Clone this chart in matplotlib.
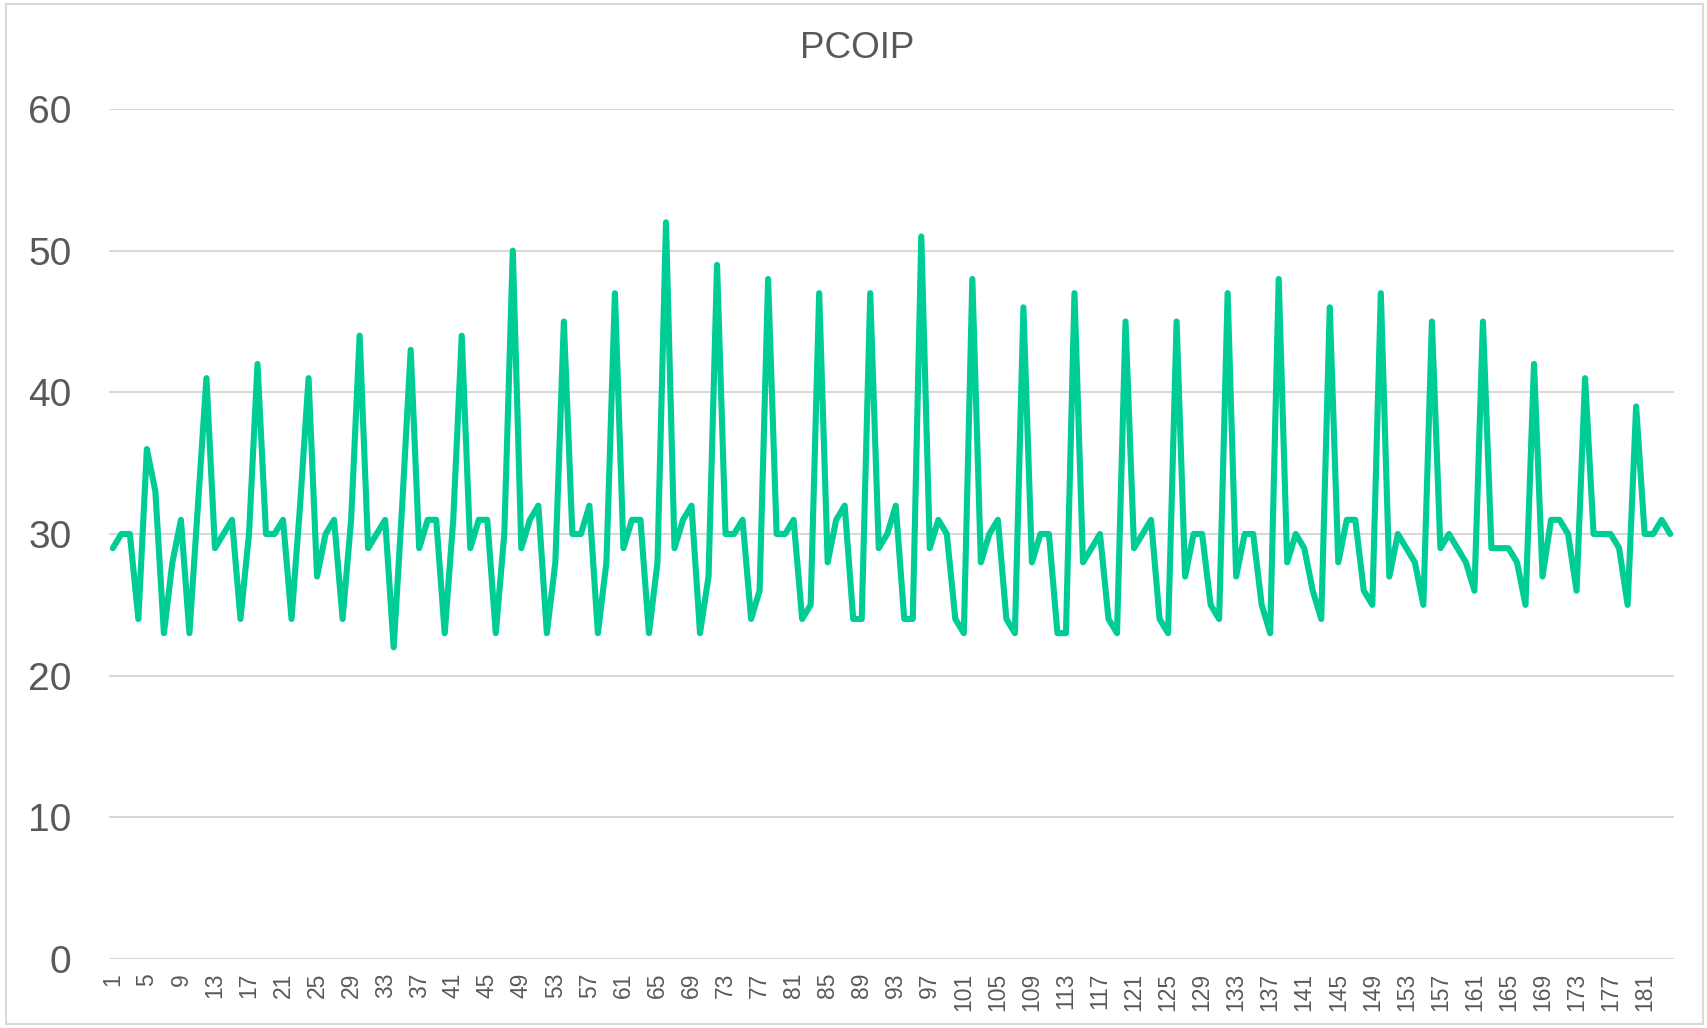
import matplotlib.pyplot as plt
from matplotlib.patches import Rectangle

plt.rcParams['font.family'] = ['Liberation Sans', 'DejaVu Sans']

# sample index on the x axis
samples = list(range(1, 185))

# PCOIP values
pcoip = [29, 30, 30, 24, 36, 33, 23, 28, 31, 23,
         32, 41, 29, 30, 31, 24, 30, 42, 30, 30,
         31, 24, 32, 41, 27, 30, 31, 24, 31, 44,
         29, 30, 31, 22, 32, 43, 29, 31, 31, 23,
         31, 44, 29, 31, 31, 23, 30, 50, 29, 31,
         32, 23, 28, 45, 30, 30, 32, 23, 28, 47,
         29, 31, 31, 23, 28, 52, 29, 31, 32, 23,
         27, 49, 30, 30, 31, 24, 26, 48, 30, 30,
         31, 24, 25, 47, 28, 31, 32, 24, 24, 47,
         29, 30, 32, 24, 24, 51, 29, 31, 30, 24,
         23, 48, 28, 30, 31, 24, 23, 46, 28, 30,
         30, 23, 23, 47, 28, 29, 30, 24, 23, 45,
         29, 30, 31, 24, 23, 45, 27, 30, 30, 25,
         24, 47, 27, 30, 30, 25, 23, 48, 28, 30,
         29, 26, 24, 46, 28, 31, 31, 26, 25, 47,
         27, 30, 29, 28, 25, 45, 29, 30, 29, 28,
         26, 45, 29, 29, 29, 28, 25, 42, 27, 31,
         31, 30, 26, 41, 30, 30, 30, 29, 25, 39,
         30, 30, 31, 30]

y_ticks = [0, 10, 20, 30, 40, 50, 60]
title = 'PCOIP'

grey_text = '#595959'
grid_col = '#d9d9d9'
line_col = '#00cc96'

fig = plt.figure(figsize=(17.07, 10.28), dpi=100)
ax = fig.add_axes([109 / 1707, 1 - 959 / 1028, (1674 - 109) / 1707, (959 - 109) / 1028])

ax.plot(samples, pcoip, color=line_col, lw=4.4, solid_joinstyle='round', solid_capstyle='round', zorder=3)

ax.set_xlim(0.55, 184.45)
ax.set_ylim(0, 60)
ax.set_yticks(y_ticks)
ax.set_xticks(samples[::4])
ax.set_xticklabels([str(s) for s in samples[::4]], rotation=90)

ax.yaxis.grid(True, color=grid_col, lw=1.5)
ax.set_axisbelow(True)
for s in ax.spines.values():
    s.set_visible(False)
ax.tick_params(axis='y', length=0, pad=27, labelsize=28, labelcolor=grey_text)
ax.tick_params(axis='x', length=0, pad=10, labelsize=16.5, labelcolor=grey_text)

fig.text(857 / 1707, 1 - 49 / 1028, title, ha='center', va='center', fontsize=26.5, color=grey_text)

# chart border
fig.patches.append(Rectangle((6 / 1707, 4 / 1028), 1697 / 1707, 1020 / 1028, transform=fig.transFigure,
                             fill=False, edgecolor=grid_col, lw=1.5))

fig.savefig('out.png', dpi=100)
